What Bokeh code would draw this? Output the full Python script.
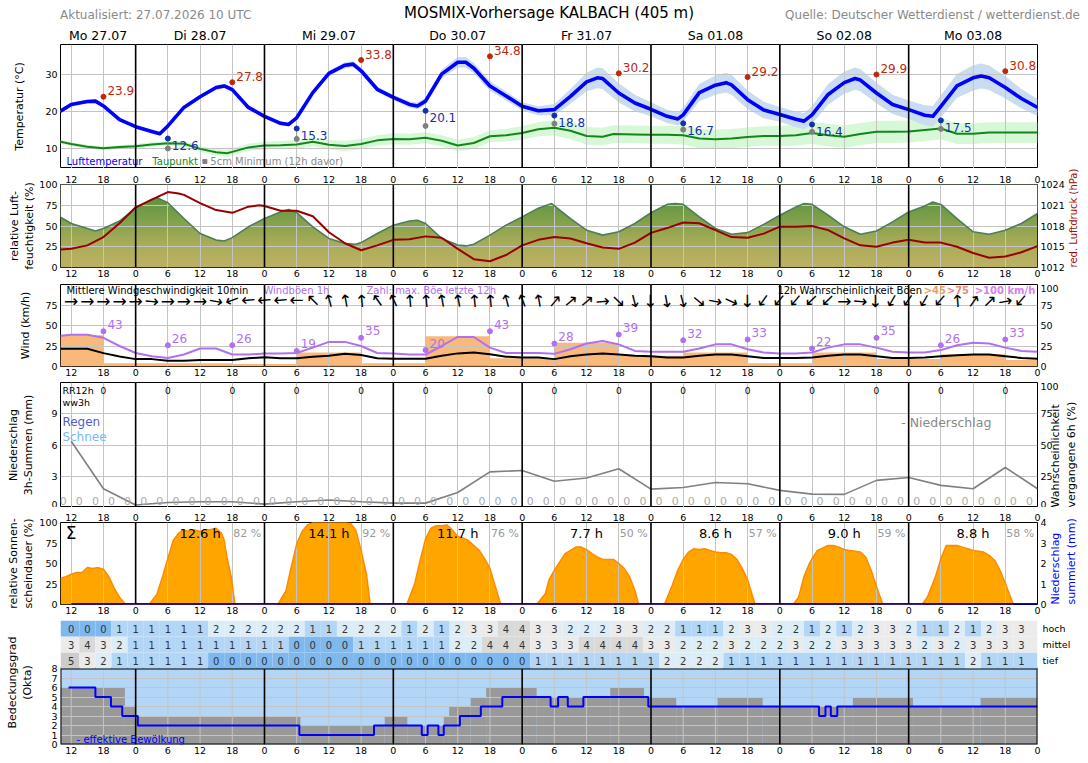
import math
import numpy as np
from bokeh.plotting import figure
from bokeh.layouts import column
from bokeh.models import Range1d, LinearAxis, FixedTicker, CustomJSTickFormatter, Span, Grid, Div
from bokeh.core.properties import value
from bokeh.embed import file_html
from bokeh.resources import INLINE

FONT = "DejaVu Sans"
GRID = "#c4c4c4"
HAS_LABEL_ALIGN = "axis_label_align" in LinearAxis.properties()

# ---------------- time axis: hours since 27.07. 00 UTC ----------------
X0, X1 = 10, 192
HOUR_TICKS = list(range(12, 193, 6))
DAY_BREAKS = [24, 48, 72, 96, 120, 144, 168]
DAY_CENTERS = [17, 36, 60, 84, 108, 132, 156, 180]
DAY_NAMES = ["Mo 27.07", "Di 28.07", "Mi 29.07", "Do 30.07", "Fr 31.07", "Sa 01.08", "So 02.08", "Mo 03.08"]

# ---------------- temperature ----------------
TEMP_H = [10, 12, 15, 16.5, 18, 21, 24, 27, 28.5, 30,
          33, 36, 39, 40.5, 42, 45, 48, 51, 52.5, 54,
          57, 60, 63, 64.5, 66, 69, 72, 75, 76.5, 78,
          81, 84, 85.5, 87, 90, 93, 96, 99, 102, 105,
          108, 110, 111, 114, 117, 120, 123, 125, 126, 129,
          132, 134, 135, 138, 141, 144, 147, 148.5, 150, 153,
          156, 158, 159, 162, 165, 168, 171, 172.5, 174, 177,
          180, 181.5, 183, 186, 189, 192]
TEMP_V = [20.0, 21.8, 22.6, 22.7, 21.4, 17.7, 15.8, 14.5, 13.9, 16.0,
          21.0, 23.9, 26.4, 26.8, 25.8, 21.0, 18.6, 16.7, 16.4, 18.2,
          25.0, 30.2, 32.4, 32.7, 30.9, 25.9, 23.7, 21.8, 21.4, 22.7,
          30.0, 33.2, 33.2, 31.6, 26.8, 24.1, 21.3, 20.1, 20.4, 24.0,
          27.9, 29.0, 28.8, 24.9, 22.2, 20.5, 18.6, 17.9, 19.0, 25.0,
          27.0, 27.7, 27.1, 23.1, 20.3, 19.1, 17.8, 17.3, 19.0, 24.5,
          27.7, 28.8, 28.4, 24.9, 21.8, 20.4, 18.9, 18.6, 21.3, 26.8,
          29.0, 29.5, 29.0, 26.4, 23.4, 21.0]
TEMP_SPREAD = [0.4, 0.5, 0.5, 0.5, 0.5, 0.4, 0.4, 0.4, 0.4, 0.4,
               0.5, 0.5, 0.6, 0.6, 0.6, 0.5, 0.5, 0.5, 0.5, 0.5,
               0.6, 0.7, 0.8, 0.8, 0.8, 0.7, 0.7, 0.8, 0.9, 0.9,
               1.2, 1.4, 1.4, 1.4, 1.3, 1.2, 1.1, 1.2, 1.5, 2.0,
               2.5, 2.8, 2.8, 2.6, 2.2, 1.9, 1.8, 1.8, 1.9, 2.3,
               2.6, 2.7, 2.7, 2.5, 2.2, 2.0, 2.1, 2.2, 2.4, 2.8,
               3.0, 3.0, 3.0, 2.8, 2.6, 2.5, 2.7, 2.8, 3.0, 3.2,
               3.4, 3.4, 3.3, 3.0, 2.6, 2.3]

DEW_H = [10, 12, 15, 18, 21, 24, 27, 30, 33, 36,
         39, 41, 42, 45, 48, 51, 54, 57, 60, 63,
         66, 69, 72, 75, 78, 81, 84, 87, 90, 93,
         96, 99, 102, 105, 108, 111, 113, 117, 120, 123,
         126, 129, 132, 135, 138, 141, 144, 147, 150, 153,
         156, 159, 162, 165, 168, 171, 174, 177, 180, 183,
         186, 189, 192]
DEW_V = [11.7, 11.1, 10.4, 10.0, 10.3, 10.5, 11.0, 11.3, 11.2, 9.8,
         8.9, 8.6, 9.0, 10.2, 10.7, 10.8, 11.0, 11.7, 10.9, 10.6,
         11.1, 12.1, 12.5, 12.4, 12.8, 12.0, 10.7, 11.4, 13.2, 13.5,
         14.1, 15.1, 15.5, 14.7, 13.3, 13.1, 13.8, 13.7, 13.6, 13.6,
         13.5, 12.6, 12.4, 12.6, 13.0, 13.3, 13.3, 13.5, 14.1, 13.5,
         13.1, 13.8, 14.4, 14.4, 14.5, 14.9, 15.3, 13.9, 13.9, 14.2,
         14.2, 14.2, 14.2]
DEW_SPREAD = [0.5, 0.5, 0.5, 0.5, 0.5, 0.6, 0.6, 0.6, 0.7, 0.8,
              0.9, 1.0, 1.0, 1.0, 1.0, 1.1, 1.2, 1.2, 1.3, 1.4,
              1.4, 1.4, 1.5, 1.5, 1.5, 1.5, 1.6, 1.6, 1.6, 1.7,
              1.8, 1.9, 2.1, 2.3, 2.4, 2.4, 2.4, 2.4, 2.4, 2.4,
              2.5, 2.6, 2.6, 2.6, 2.6, 2.6, 2.7, 2.8, 3.0, 3.0,
              3.0, 3.0, 3.0, 3.0, 3.0, 3.0, 2.9, 2.8, 2.8, 2.8,
              2.8, 2.8, 2.8]

TMAX_H = [18, 42, 66, 90, 114, 138, 162, 186]
TMAX_V = [23.9, 27.8, 33.8, 34.8, 30.2, 29.2, 29.9, 30.8]
TMIN_H = [30, 54, 78, 102, 126, 150, 174]
TMIN_V = [12.6, 15.3, 20.1, 18.8, 16.7, 16.4, 17.5]
SOIL_MIN_V = [9.9, 12.5, 16.0, 16.6, 15.0, 14.4, 15.2]

# ---------------- humidity / pressure ----------------
RH_H = [10, 12, 15, 16.5, 18, 21, 24, 27, 28, 30,
        33, 36, 39, 40.5, 42, 45, 48, 51, 52.5, 54,
        57, 60, 63, 65, 66, 69, 72, 75, 76.5, 78,
        81, 84, 85.5, 87, 90, 93, 96, 99, 101.5, 105,
        108, 111, 114, 117, 120, 123, 124.5, 126, 129, 132,
        135, 138, 141, 144, 147, 148.5, 150, 153, 156, 159,
        162, 165, 168, 171, 172.5, 174, 177, 180, 183, 186,
        189, 192]
RH_V = [60.6, 53, 47, 44, 47, 56, 71.5, 82, 84, 78,
        59, 41, 33, 32, 36, 49, 59, 67, 70, 66,
        49, 35, 29, 28, 30, 41, 51, 56, 57, 53,
        35, 27, 26, 28, 39, 51, 61, 71.5, 77, 59,
        45, 39, 43, 53, 66, 76, 77, 76, 61, 47,
        40, 42, 52, 63, 73, 77, 76, 63, 49, 40,
        44, 55, 67, 74, 79, 76, 59, 43, 40, 45,
        53, 65]
PRES_H = [10, 12, 15, 18, 21, 24, 27, 30, 32, 33,
          36, 39, 42, 45, 47, 48, 51, 54, 57, 60,
          63, 66, 69, 72, 75, 78, 81, 84, 87, 90,
          93, 96, 99, 102, 105, 108, 111, 114, 117, 120,
          123, 126, 129, 132, 135, 138, 141, 144, 147, 150,
          153, 156, 159, 162, 165, 168, 171, 174, 177, 180,
          183, 186, 189, 192]
PRES_V = [1014.6, 1014.7, 1015.2, 1016.4, 1018.4, 1020.7, 1021.8, 1022.9, 1022.7, 1022.5,
          1021.3, 1020.3, 1019.9, 1020.8, 1021.0, 1020.9, 1020.2, 1020.2, 1019.4, 1017.1,
          1015.5, 1014.5, 1015.2, 1016.0, 1016.1, 1016.5, 1016.3, 1014.7, 1013.2, 1012.9,
          1013.8, 1015.2, 1016.0, 1016.4, 1016.2, 1015.5, 1014.9, 1014.7, 1015.6, 1017.0,
          1017.7, 1018.5, 1018.4, 1017.4, 1016.4, 1016.3, 1016.9, 1017.9, 1017.9, 1018.0,
          1017.4, 1016.2, 1015.2, 1015.0, 1015.6, 1016.0, 1015.6, 1015.6, 1015.0, 1014.1,
          1013.4, 1013.6, 1014.2, 1015.1]

# ---------------- wind ----------------
WIND_H = [10, 12] + list(range(15, 193, 3))
WIND_MEAN = [21.6, 21.6, 21.6, 16.3, 12.2, 9, 9, 7, 7, 8,
             8, 8, 10, 11.4, 10, 10, 12, 13, 15.5, 14,
             10, 9.4, 9.4, 9.4, 13, 16, 17, 15, 12, 11, 11,
             9, 12.5, 14.6, 16, 14.6, 13, 12.5, 11, 11, 13,
             14.6, 14.6, 12.5, 10.4, 10.4, 10.4, 11, 13, 14.6, 14.6,
             12.5, 10.4, 10.4, 11, 12.5, 13.7, 14.6, 14.6, 12.5, 10.4, 9.6]
WIND_GUST = [37.5, 38.8, 38.8, 35, 25, 16.5, 12.5, 10.4, 14.6, 22,
             22, 14.6, 14.6, 15.8, 15.8, 16.5, 23, 30, 30, 25,
             16.5, 15.8, 14.6, 14.6, 25, 36, 36, 23, 16.5, 16.5, 16.5,
             15.4, 21, 28, 31, 27, 19, 18, 18, 18, 22,
             27, 27, 21, 17, 16, 16, 17, 23, 27, 27,
             23, 18, 17, 17, 20, 26, 29, 28, 23, 19, 18]
GUST_MAX_H = [18, 30, 42, 54, 66, 78, 90, 102, 114, 126, 138, 150, 162, 174, 186]
GUST_MAX = [43, 26, 26, 19, 35, 20, 43, 28, 39, 32, 33, 22, 35, 26, 33]
PROB_START = [10, 18, 30, 42, 54, 66, 78, 90, 102, 114, 126, 138, 150, 162, 174, 186]
PROB_END = [18, 30, 42, 54, 66, 78, 90, 102, 114, 126, 138, 150, 162, 174, 186, 192]
PROB_45 = [38, 4, 4, 3, 17, 4, 37, 10, 29, 13, 17, 4, 17, 9, 15, 8]
PROB_75 = [0, 0, 0, 0, 1.5, 0, 1.5, 0, 1.5, 0, 0, 0, 0, 0, 0, 0]
ARROW_H = list(range(12, 190, 3))
WIND_DIR = [0, 0, 0, 0, 0, -5, 0, 0, 0, -10,
            200, 185, 185, 185, 180, 135, 105, 100, 95, 125,
            115, 95, 95, 100, 100, 95, 95, 105, 110, 100,
            50, 40, 40, 5, -45, -75, -90, -80, -75, -40,
            -10, -25, -90, 235, 230, 230, 225, 225, 0, -5,
            -90, 240, 235, 240, 230, 95, 55, 45, 10, 230]

# ---------------- precipitation ----------------
PROB_H = list(range(12, 193, 6))
PRECIP_PROB = [53, 15, 2, 4, 4.6, 4.6, 2.7, 4.6, 6, 4.6, 3.5, 3.5, 12, 28.5, 29.6,
               21, 23.6, 31, 14.7, 16, 20, 19, 13.7, 10.7, 10.5, 21.7, 24, 17.7, 15, 32, 15]
RR3_H = [10.5 + 3 * k for k in range(61)]
RR3_V = [0] * 61
RR12_H = list(range(18, 190, 12))
RR12_V = [0] * 15
PRECIP_SUM_H = [12, 192]
PRECIP_SUM_V = [0, 0]

# ---------------- sunshine ----------------
SUN_H = [10, 11, 12, 13, 14, 15, 16, 17, 18, 19, 20, 21, 22, 23,
         26.5, 28, 29, 30, 31, 32, 33, 34, 35, 36, 37, 38, 39, 40, 40.5, 41, 41.8, 42.5,
         50.5, 52, 53, 54, 55, 56, 57, 60, 63, 64, 65, 66, 67, 67.7,
         74.5, 76, 77, 78, 79, 80, 81, 82, 83, 84, 85, 86, 87, 88, 89, 90, 91, 92,
         98.7, 100.3, 101, 102, 103, 104, 105, 106, 107, 108, 109, 110, 111, 112, 113, 114, 115, 116, 117, 117.7,
         122.5, 124, 125, 126, 127, 128, 129, 130, 131, 132, 133, 134, 135, 136, 137, 138, 139.4,
         146.5, 147.5, 148.5, 149.5, 150, 151, 152, 153, 154, 155, 156, 157, 158, 159, 160, 161, 162, 163.2,
         170.5, 171.5, 173, 174, 175, 176, 177, 178, 179, 180, 181, 182, 183, 184, 185, 186, 187.5, 192]
SUN_V = [32, 34, 37, 39, 39, 45, 44, 45, 43, 34, 20, 9, 1, 0,
         0, 13, 34, 56, 78, 87, 91, 89, 91, 89, 91, 91.5, 93, 87, 78, 58, 34, 0,
         0, 17, 46, 74, 89, 97, 100, 100, 100, 99, 91, 66, 37, 0,
         0, 26, 54, 80, 93, 96, 96, 97, 91, 83, 81, 78, 72, 66, 56, 44, 22, 0,
         0, 13, 30, 42, 52, 62, 66, 70, 70, 67, 62, 58, 55, 55, 55, 50, 44, 34, 17, 0,
         0, 24, 42, 55, 64, 68, 67, 68, 66, 64, 63, 63, 61, 55, 44, 30, 0,
         0, 9, 34, 50, 56, 66, 69, 72, 72, 70, 67, 66, 65, 64, 58, 42, 22, 0,
         0, 9, 34, 56, 72, 72, 72, 70, 68, 66, 65, 64, 60, 54, 42, 26, 0, 0]
SUN_SUM = [12.6, 14.1, 11.7, 7.7, 8.6, 9.0, 8.8]
SUN_PCT = [82, 92, 76, 50, 57, 59, 58]
SUN_DAY_H = [36, 60, 84, 108, 132, 156, 180]

# ---------------- clouds ----------------
CLOUD_H = list(range(12, 190, 3))
HIGH = [0, 0, 0, 1, 1, 1, 1, 1, 1, 2, 2, 2, 2, 2, 2, 1, 1, 2, 2, 2, 2, 1, 2, 1, 2, 3, 3, 4, 4, 3,
        3, 2, 2, 2, 3, 3, 2, 2, 1, 1, 1, 2, 3, 3, 2, 2, 1, 2, 1, 2, 3, 3, 2, 1, 1, 2, 1, 2, 3, 3]
MID = [3, 4, 3, 2, 1, 1, 1, 1, 1, 1, 1, 1, 1, 1, 0, 0, 0, 0, 1, 1, 1, 1, 1, 1, 2, 2, 4, 4, 4, 3,
       3, 3, 4, 4, 4, 4, 3, 3, 2, 2, 2, 3, 2, 2, 2, 3, 2, 2, 3, 3, 3, 3, 3, 2, 3, 2, 3, 3, 3, 3]
LOW = [5, 3, 2, 1, 1, 1, 1, 1, 1, 0, 0, 0, 0, 0, 0, 0, 0, 0, 0, 0, 0, 0, 0, 0, 0, 0, 0, 0, 0, 1,
       1, 1, 1, 1, 1, 1, 1, 2, 2, 2, 2, 1, 1, 1, 1, 1, 1, 1, 1, 1, 1, 1, 1, 1, 1, 1, 2, 1, 1, 1]
COVER_H = [10, 22, 23.9, 54.7, 70.4, 74.6, 81.4, 82.4, 86.4, 89.3, 98.7, 112.4, 118.7, 124.7,
           132.4, 140.8, 157.6, 168.8, 181.4]
COVER_V = [6, 4, 3, 2, 3, 2, 3, 4, 5, 6, 5, 6, 5, 4, 5, 4, 5, 4, 5]
EFF_H = [11.5, 16.5, 19.4, 21.5, 24.4, 54.5, 68.4, 77.3, 78.4, 80.4, 81.4, 84.4, 88.3, 92.3,
         101.3, 102.7, 104.5, 107.4, 119.5, 151.3, 152.5, 153.5, 154.7]
EFF_V = [6, 5, 4, 3, 2, 1, 2, 1, 2, 1, 2, 3, 4, 5, 4, 5, 4, 5, 4, 3, 4, 3, 4]
OKTA_COLORS = ["#7fb8ee", "#b3d6f6", "#dcedf7", "#ebebeb", "#d9d9d9", "#cccccc"]


# ---------------- helpers ----------------
def style_axis(ax, size="9.5px"):
    ax.axis_line_color = None
    ax.major_tick_line_color = None
    ax.minor_tick_line_color = None
    ax.major_tick_out = 0
    ax.major_tick_in = 0
    ax.minor_tick_out = 0
    ax.minor_tick_in = 0
    ax.major_label_text_font = FONT
    ax.major_label_text_font_size = size
    ax.major_label_text_color = "black"
    ax.axis_label_text_font = FONT
    ax.axis_label_text_font_size = "11px"
    ax.axis_label_text_font_style = "normal"
    return ax


def hour_axis(p, side="below", standoff=2):
    ax = LinearAxis(ticker=FixedTicker(ticks=HOUR_TICKS, minor_ticks=[]),
                    formatter=CustomJSTickFormatter(code="return String(tick % 24);"))
    style_axis(ax)
    ax.major_label_standoff = standoff
    p.add_layout(ax, side)


def y_axis(p, ticks, label=None, standoff=0, side="left", range_name="default", color="black"):
    ax = LinearAxis(ticker=FixedTicker(ticks=ticks, minor_ticks=[]), y_range_name=range_name)
    style_axis(ax)
    ax.major_label_standoff = 3
    if label:
        ax.axis_label = label
        ax.axis_label_standoff = standoff
        ax.axis_label_text_color = color
    p.add_layout(ax, side)
    return ax


def right_title(p, text, standoff, color="black", size="11px"):
    """Title in the right-hand margin, outside the tick labels."""
    ax = LinearAxis(ticker=FixedTicker(ticks=[], minor_ticks=[]))
    style_axis(ax)
    ax.major_label_standoff = 0
    ax.axis_label = text
    ax.axis_label_standoff = standoff
    ax.axis_label_text_color = color
    ax.axis_label_text_font_size = size
    if HAS_LABEL_ALIGN:
        # read bottom-to-top, starting at the lower frame edge
        ax.axis_label_orientation = math.pi / 2
        ax.axis_label_align = "start"
    p.add_layout(ax, "right")


def panel(frame_h, yr, top=0, bottom=0, ygrid=None, day_lines=True, vgrid=True,
          axis_above=False, axis_below=True):
    p = figure(frame_width=977, frame_height=frame_h, x_range=Range1d(X0, X1), y_range=Range1d(*yr),
               x_axis_type=None, y_axis_type=None, output_backend="svg", toolbar_location=None,
               min_border_left=60, min_border_right=51, min_border_top=top, min_border_bottom=bottom)
    p.outline_line_color = "black"
    p.outline_line_width = 1
    p.background_fill_color = "white"
    if vgrid:
        p.add_layout(Grid(dimension=0, ticker=FixedTicker(ticks=HOUR_TICKS, minor_ticks=[]),
                          grid_line_color=GRID, grid_line_width=1))
    if ygrid:
        p.add_layout(Grid(dimension=1, ticker=FixedTicker(ticks=ygrid, minor_ticks=[]),
                          grid_line_color=GRID, grid_line_width=1))
    if day_lines:
        for d in DAY_BREAKS:
            p.add_layout(Span(location=d, dimension="height", line_color="black", line_width=1.6))
    if axis_above:
        hour_axis(p, "above")
    if axis_below:
        hour_axis(p, "below")
    return p


def put_text(p, xs, ys, texts, size, color="black", align="left", baseline="middle",
             dx=0, dy=0, bold=False, range_name="default", angle=0.0):
    p.text(x=list(xs), y=list(ys), text=list(texts), text_font=value(FONT), text_font_size=size,
           text_color=color, text_align=align, text_baseline=baseline, x_offset=dx, y_offset=dy,
           text_font_style="bold" if bold else "normal", y_range_name=range_name, angle=angle)


# ---------------- header ----------------
head = Div(width=1088, height=24, styles={"margin": "0", "padding": "0"}, text=(
    '<div style="position:relative;width:1088px;height:24px;font-family:\'DejaVu Sans\';line-height:1;">'
    '<span style="position:absolute;left:60px;top:9px;font-size:12px;color:#8a8a8a;">'
    'Aktualisiert: 27.07.2026 10 UTC</span>'
    '<span style="position:absolute;left:0;width:1098px;top:6px;font-size:15px;color:#000;text-align:center;">'
    'MOSMIX-Vorhersage KALBACH (405 m)</span>'
    '<span style="position:absolute;right:8px;top:9px;font-size:12px;color:#8a8a8a;">'
    'Quelle: Deutscher Wetterdienst / wetterdienst.de</span></div>'))

# ---------------- temperature ----------------
pA = panel(124, (4.5, 38), top=18, bottom=0, ygrid=[10, 20, 30], axis_below=False)
day_ax = LinearAxis(ticker=FixedTicker(ticks=DAY_CENTERS, minor_ticks=[]),
                    formatter=CustomJSTickFormatter(args=dict(pos=DAY_CENTERS, names=DAY_NAMES),
                                                    code="const i = pos.indexOf(tick); return i < 0 ? '' : names[i];"))
style_axis(day_ax, size="12.5px")
day_ax.major_label_standoff = 2
pA.add_layout(day_ax, "above")
y_axis(pA, [10, 20, 30], "Temperatur (°C)", 16)

tv, ts = np.array(TEMP_V), np.array(TEMP_SPREAD)
dv, ds = np.array(DEW_V), np.array(DEW_SPREAD)
pA.varea(x=DEW_H, y1=dv - ds, y2=dv + ds, fill_color="#d6f8d6", level="image")
pA.varea(x=TEMP_H, y1=tv - ts, y2=tv + ts, fill_color="#c9dcf0", level="image")
pA.line(DEW_H, DEW_V, line_color="#13861a", line_width=2)
pA.line(TEMP_H, TEMP_V, line_color="#0000ff", line_width=3.6, line_join="round")
pA.segment(x0=TMIN_H, y0=TMIN_V, x1=TMIN_H, y1=SOIL_MIN_V, line_color="#999999", line_width=1)
pA.scatter(TMIN_H, SOIL_MIN_V, size=5, color="#808080")
pA.scatter(TMIN_H, TMIN_V, size=5, color="#1330b0")
pA.scatter(TMAX_H, TMAX_V, size=5, color="#c0280c")
put_text(pA, TMAX_H, TMAX_V, [f"{v:.1f}" for v in TMAX_V], "12px", color="#c0280c", dx=4, dy=-6)
put_text(pA, TMIN_H, TMIN_V, [f"{v:.1f}" for v in TMIN_V], "12px", color="#1330b0", dx=4, dy=7)
put_text(pA, [11.1], [6.4], ["Lufttemperatur"], "10px", color="#0000ff")
put_text(pA, [27.1], [6.4], ["Taupunkt"], "10px", color="#13861a")
pA.scatter([36.9], [6.4], size=4, marker="square", color="#808080")
put_text(pA, [37.9], [6.4], ["5cm Minimum (12h davor)"], "10px", color="#8a8a8a")

# ---------------- humidity / pressure ----------------
pB = panel(83, (0, 100), top=16, bottom=17, ygrid=[25, 50, 75], axis_above=True)
pB.extra_y_ranges = {"hpa": Range1d(1012, 1024)}
y_axis(pB, [0, 25, 50, 75, 100], "relative Luft-\nfeuchtigkeit (%)", 0)
y_axis(pB, [1012, 1015, 1018, 1021, 1024], side="right", range_name="hpa")
right_title(pB, "red. Luftdruck (hPa)", 6, color="#a01010", size="10px")
stops_y = [0, 30, 60, 100]
stops_rgb = [(190, 178, 100), (168, 172, 88), (125, 160, 75), (78, 136, 62)]
n = 100
lev = np.linspace(0.5, 99.5, n)
img = np.zeros((n, 2), dtype=np.uint32)
view = img.view(dtype=np.uint8).reshape((n, 2, 4))
for c in range(3):
    ch = np.interp(lev, stops_y, [s[c] for s in stops_rgb])
    view[:, :, c] = ch.astype(np.uint8)[:, None]
view[:, :, 3] = 255
pB.image_rgba(image=[img], x=X0, y=0, dw=X1 - X0, dh=100, level="image")
pB.varea(x=RH_H, y1=RH_V, y2=[100] * len(RH_V), fill_color="white", level="image")
pB.line(RH_H, RH_V, line_color="#4e7e58", line_width=1.6)
pB.line(PRES_H, PRES_V, line_color="#990000", line_width=2, y_range_name="hpa")

# ---------------- wind ----------------
pC = panel(82, (0, 100), bottom=16, ygrid=[25, 50, 75])
pC.extra_y_ranges = {"w2": Range1d(0, 100)}
y_axis(pC, [0, 25, 50, 75], "Wind (km/h)", 10)
y_axis(pC, [0, 25, 50, 75, 100], side="right", range_name="w2")
pC.quad(left=PROB_START, right=PROB_END, bottom=0, top=PROB_45, fill_color="#f9b97a",
        line_color=None, level="image")
pC.quad(left=PROB_START, right=PROB_END, bottom=0, top=PROB_75, fill_color="#f08a7a",
        line_color=None, level="image")
pC.line(WIND_H, WIND_GUST, line_color="#b070f0", line_width=2)
pC.line(WIND_H, WIND_MEAN, line_color="black", line_width=2)
pC.scatter(GUST_MAX_H, GUST_MAX, size=5, color="#b070f0")
put_text(pC, GUST_MAX_H, GUST_MAX, [str(v) for v in GUST_MAX], "12px", color="#b070f0", dx=4, dy=-7)
put_text(pC, ARROW_H, [80] * len(ARROW_H), ["→"] * len(ARROW_H), "17px",
         align="center", angle=[math.radians(a) for a in WIND_DIR])
put_text(pC, [11.1], [92.5], ["Mittlere Windgeschwindigkeit 10min"], "10px")
put_text(pC, [47.8], [92.5], ["Windböen 1h"], "10px", color="#b070f0")
put_text(pC, [67.0], [92.5], ["Zahl: max. Böe letzte 12h"], "10px", color="#b070f0")
put_text(pC, [170.5], [92.5], ["12h Wahrscheinlichkeit Böen"], "10px", align="right")
put_text(pC, [170.8], [92.5], [">45"], "10px", color="#e8a060", bold=True)
put_text(pC, [175.1], [92.5], [">75"], "10px", color="#ee8a7a", bold=True)
put_text(pC, [180.3], [92.5], [">100 km/h"], "10px", color="#d880ec", bold=True)

# ---------------- precipitation ----------------
pD = panel(125, (0, 12), ygrid=[3, 6, 9], axis_below=False)
pD.extra_y_ranges = {"prob": Range1d(0, 100)}
y_axis(pD, [0, 3, 6, 9], "Niederschlag\n3h-Summen (mm)", 13)
y_axis(pD, [0, 25, 50, 75, 100], side="right", range_name="prob")
right_title(pD, "Wahrscheinlichkeit\nvergangene 6h (%)", 2)
pD.line(PROB_H, PRECIP_PROB, line_color="#808080", line_width=1.6, y_range_name="prob")
put_text(pD, RR3_H, [0.6] * len(RR3_H), [str(v) for v in RR3_V], "11px", color="#aaaaaa", align="center")
put_text(pD, RR12_H, [11.2] * len(RR12_H), [str(v) for v in RR12_V], "9px", align="center")
put_text(pD, [10.35], [11.2], ["RR12h"], "9.5px")
put_text(pD, [10.35], [10.05], ["ww3h"], "9.5px")
put_text(pD, [10.35], [8.2], ["Regen"], "12px", color="#4a60d0")
put_text(pD, [10.35], [6.75], ["Schnee"], "12px", color="#78b8f4")
put_text(pD, [183.4], [8.2], ["- Niederschlag"], "12.5px", color="#888888", align="right")

# ---------------- sunshine ----------------
pE = panel(82, (0, 100), top=15, bottom=16, axis_above=True)
pE.extra_y_ranges = {"acc": Range1d(0, 4)}
y_axis(pE, [0, 25, 50, 75, 100], "relative Sonnen-\nscheindauer (%)", 1)
y_axis(pE, [0, 1, 2, 3, 4], side="right", range_name="acc")
right_title(pE, "Niederschlag\nsummiert (mm)", 14, color="#0000ff")
sv = np.array(SUN_V, dtype=float)
pos = sv > 0
keep = pos | np.r_[pos[1:], False] | np.r_[False, pos[:-1]]
pE.varea(x=SUN_H, y1=[0] * len(SUN_H), y2=SUN_V, fill_color="#ffa500", level="image")
pE.line(SUN_H, np.where(keep, sv, np.nan), line_color="#ff8a00", line_width=1.5)
pE.line(PRECIP_SUM_H, PRECIP_SUM_V, line_color="#0000ff", line_width=3, y_range_name="acc")
put_text(pE, SUN_DAY_H, [87] * len(SUN_DAY_H), [f"{v:.1f} h" for v in SUN_SUM], "13px", align="center")
put_text(pE, [h + 8.8 for h in SUN_DAY_H], [87] * len(SUN_DAY_H), [f"{v} %" for v in SUN_PCT],
         "11px", color="#999999", align="center")
put_text(pE, [12.0], [87], ["Σ"], "17px", align="center")

# ---------------- cloud layers table + cloud cover ----------------
OK_TOP = 8.0
ROW_H = 48 / 76 * 8 / 3
ROW_Y = [OK_TOP + ROW_H * (i + 0.5) for i in range(3)]      # tief, mittel, hoch
YMAX = OK_TOP + 3 * ROW_H
pF = panel(124, (0, YMAX), bottom=21, ygrid=[1, 2, 3, 4, 5, 6, 7], day_lines=False, vgrid=False)
pF.outline_line_color = None
y_axis(pF, list(range(0, 9)), "Bedeckungsgrad\n(Okta)", 14)
row_ax = LinearAxis(ticker=FixedTicker(ticks=ROW_Y, minor_ticks=[]),
                    formatter=CustomJSTickFormatter(args=dict(pos=ROW_Y, names=["tief", "mittel", "hoch"]),
                                                    code="let b = 0; for (let i = 1; i < pos.length; i++) { if (Math.abs(pos[i] - tick) < Math.abs(pos[b] - tick)) b = i; } return names[b];"))
style_axis(row_ax, size="9.5px")
row_ax.major_label_standoff = 5
pF.add_layout(row_ax, "right")

pF.quad(left=[X0], right=[X1], bottom=[0], top=[OK_TOP], fill_color="#b3d6f6", line_color=None, level="image")
cov_right = COVER_H[1:] + [X1]
pF.quad(left=COVER_H, right=cov_right, bottom=0, top=COVER_V, fill_color="#999999",
        line_color=None, level="image")
pF.segment(x0=HOUR_TICKS, y0=0, x1=HOUR_TICKS, y1=OK_TOP, line_color=GRID, line_width=1, level="underlay")
pF.step(x=EFF_H + [X1], y=EFF_V + [EFF_V[-1]], mode="after", line_color="#0000ff", line_width=2)
pF.segment(x0=DAY_BREAKS, y0=0, x1=DAY_BREAKS, y1=OK_TOP, line_color="black", line_width=1.6)
pF.quad(left=[X0], right=[X1], bottom=[0], top=[OK_TOP], fill_color=None, line_color="black", line_width=2)
put_text(pF, [13.0], [0.55], ["- effektive Bewölkung"], "10px", color="#0000ff")

lefts = [X0] + [h - 1.5 for h in CLOUD_H[1:]]
rights = [h + 1.5 for h in CLOUD_H[:-1]] + [X1]
for row, vals in enumerate([LOW, MID, HIGH]):
    y0 = OK_TOP + ROW_H * row
    pF.quad(left=lefts, right=rights, bottom=y0, top=y0 + ROW_H,
            fill_color=[OKTA_COLORS[v] for v in vals], line_color=None)
    put_text(pF, CLOUD_H, [ROW_Y[row]] * len(CLOUD_H), [str(v) for v in vals], "10px",
             color="#333333", align="center")

layout = column(head, pA, pB, pC, pD, pE, pF, spacing=0)
open("out.html", "w").write(file_html(layout, INLINE, title="MOSMIX-Vorhersage KALBACH"))
